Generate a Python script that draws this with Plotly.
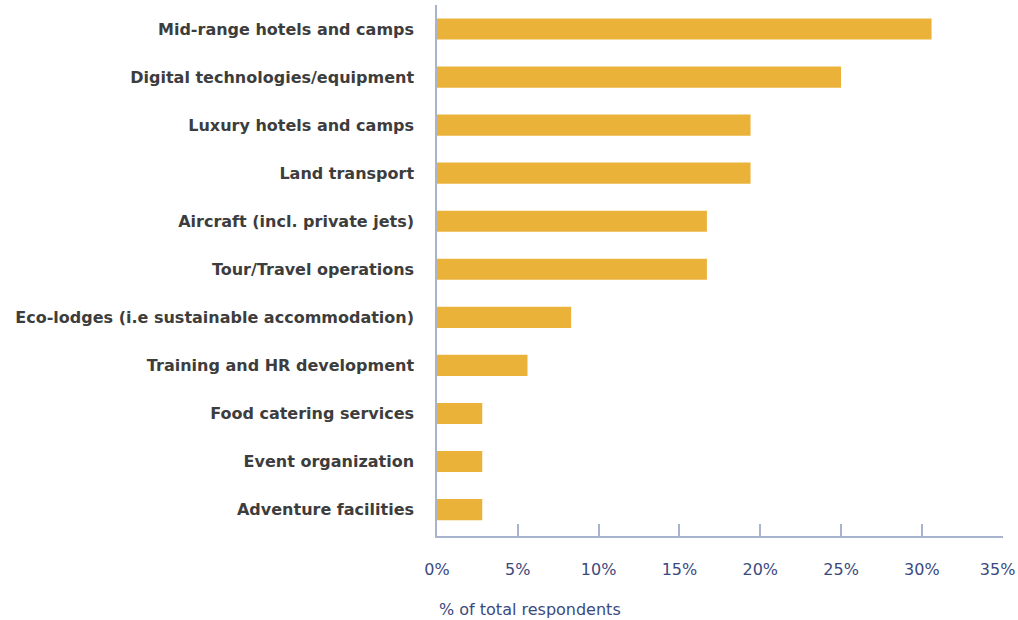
import plotly.graph_objects as go

categories = [
    "Mid-range hotels and camps",
    "Digital technologies/equipment",
    "Luxury hotels and camps",
    "Land transport",
    "Aircraft (incl. private jets)",
    "Tour/Travel operations",
    "Eco-lodges (i.e sustainable accommodation)",
    "Training and HR development",
    "Food catering services",
    "Event organization",
    "Adventure facilities",
]
values = [30.6, 25.0, 19.4, 19.4, 16.7, 16.7, 8.3, 5.6, 2.8, 2.8, 2.8]
tick_vals = [0, 5, 10, 15, 20, 25, 30, 35]
tick_text = ["0%", "5%", "10%", "15%", "20%", "25%", "30%", "35%\u00a0\u00a0"]

axis_col = "#a8b3cf"
navy = "#3b4a7e"
fam = "DejaVu Sans, sans-serif"

fig = go.Figure(go.Bar(
    x=values, y=categories, orientation="h",
    marker=dict(color="#ebb23a", line=dict(width=0)),
    width=0.44,
))

fig.update_layout(
    width=1018, height=620,
    margin=dict(l=437, r=15, t=5, b=84),
    paper_bgcolor="white", plot_bgcolor="white",
    showlegend=False,
    font=dict(family=fam),
    xaxis=dict(
        range=[0, 35.02], tickvals=tick_vals, ticktext=tick_text,
        automargin=False,
        showgrid=False, zeroline=False,
        showline=True, linecolor=axis_col, linewidth=1.5,
        ticks="inside", ticklen=12, tickwidth=1.5, tickcolor=axis_col,
        tickfont=dict(size=16, color=navy, family=fam),
        ticklabelstandoff=18, ticklabeloverflow="allow",
    ),
    yaxis=dict(
        categoryorder="array", categoryarray=categories[::-1],
        range=[-0.55, 10.5],
        automargin=False,
        showgrid=False, zeroline=False,
        showline=True, linecolor=axis_col, linewidth=1.5,
        ticks="", ticklabelstandoff=18,
        tickfont=dict(size=16, color="#3d3d3d", family=fam, weight="bold"),
    ),
    annotations=[dict(
        text="% of total respondents", x=0, xref="paper", xanchor="left",
        y=-0.139, yref="paper", yanchor="middle", showarrow=False,
        font=dict(size=16, color=navy, family=fam),
    )],
)

fig.write_html("out.html", config={"displayModeBar": False},
               post_script="document.body.style.margin='0px';")
